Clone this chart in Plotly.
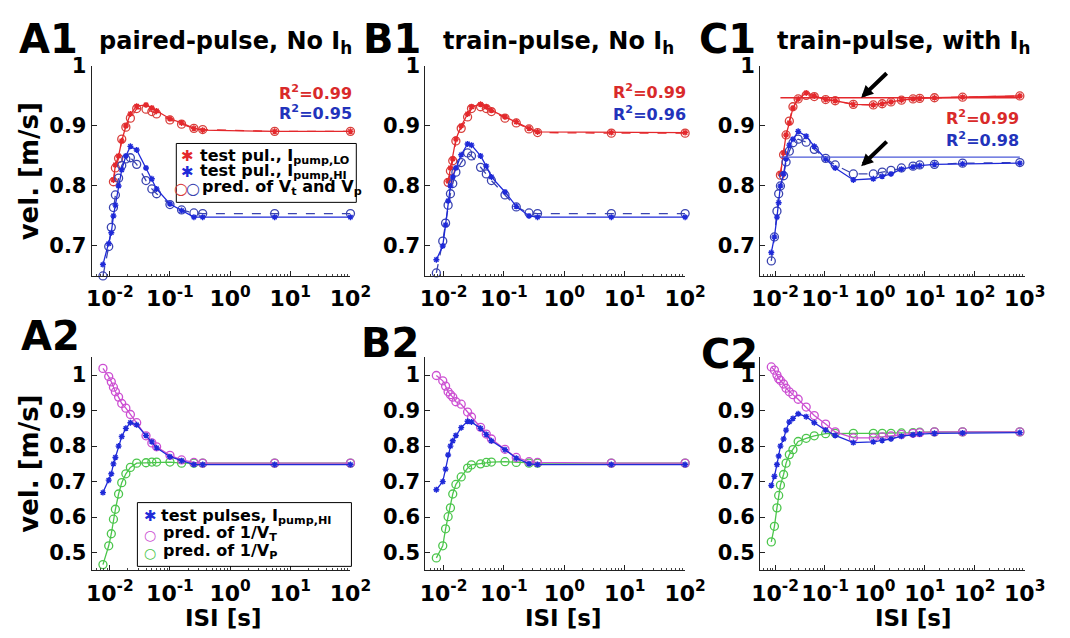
import numpy as np
import plotly.graph_objects as go

# ---------------- data ----------------
# Column A: paired-pulse, no Ih
isi_A = [0.0077, 0.0096, 0.0106, 0.0115, 0.0124, 0.014, 0.0158, 0.0185, 0.022, 0.028,
         0.04, 0.05, 0.06, 0.1, 0.156, 0.25, 0.35, 5.5, 100]
A_blue_data = [0.669, 0.704, 0.722, 0.75, 0.768, 0.80, 0.827, 0.85, 0.866, 0.86,
               0.83, 0.812, 0.795, 0.77, 0.759, 0.748, 0.748, 0.748, 0.748]
A_blue_pred = [0.650, 0.699, 0.731, 0.764, 0.785, 0.813, 0.834, 0.845, 0.847, 0.836,
               0.809, 0.795, 0.787, 0.769, 0.760, 0.755, 0.754, 0.754, 0.754]
isi_A_red = isi_A[3:]
A_red_data = [0.81, 0.835, 0.85, 0.875, 0.90, 0.92, 0.933, 0.935, 0.93, 0.925,
              0.912, 0.905, 0.896, 0.893, 0.891, 0.891]
A_red_pred = [0.807, 0.83, 0.846, 0.878, 0.898, 0.913, 0.929, 0.928, 0.924, 0.92,
              0.91, 0.903, 0.896, 0.894, 0.891, 0.891]
A_invVT = [1.019, 0.996, 0.981, 0.966, 0.953, 0.938, 0.92, 0.907, 0.889, 0.866,
           0.829, 0.809, 0.798, 0.774, 0.761, 0.754, 0.752, 0.752, 0.752]
A_invVP = [0.466, 0.519, 0.553, 0.594, 0.622, 0.665, 0.697, 0.722, 0.74, 0.752,
           0.753, 0.755, 0.755, 0.755, 0.752, 0.752, 0.752, 0.752, 0.752]

# Column B: train-pulse, no Ih
isi_B = [0.0076, 0.0097, 0.0108, 0.0119, 0.013, 0.0142, 0.016, 0.0196, 0.025, 0.029,
         0.041, 0.051, 0.062, 0.104, 0.16, 0.26, 0.36, 6, 100]
B_blue_data = [0.677, 0.70, 0.735, 0.775, 0.80, 0.815, 0.83, 0.852, 0.87, 0.868,
               0.85, 0.833, 0.815, 0.79, 0.766, 0.75, 0.748, 0.748, 0.748]
B_blue_pred = [0.655, 0.708, 0.738, 0.768, 0.787, 0.804, 0.823, 0.839, 0.855, 0.850,
               0.831, 0.820, 0.809, 0.785, 0.765, 0.755, 0.754, 0.754, 0.754]
isi_B_red = isi_B[3:]
B_red_data = [0.808, 0.83, 0.845, 0.878, 0.90, 0.92, 0.932, 0.936, 0.932, 0.926,
              0.915, 0.907, 0.896, 0.89, 0.889, 0.889]
B_red_pred = [0.806, 0.825, 0.842, 0.875, 0.896, 0.915, 0.929, 0.932, 0.929, 0.924,
              0.913, 0.905, 0.895, 0.889, 0.888, 0.888]
B_invVT = [0.999, 0.984, 0.969, 0.953, 0.945, 0.938, 0.925, 0.918, 0.896, 0.882,
           0.853, 0.834, 0.82, 0.791, 0.768, 0.756, 0.754, 0.752, 0.752]
B_invVP = [0.485, 0.519, 0.567, 0.601, 0.626, 0.665, 0.692, 0.713, 0.738, 0.747,
           0.75, 0.754, 0.755, 0.756, 0.754, 0.752, 0.752, 0.752, 0.752]

# Column C: train-pulse, with Ih
isi_C = [0.0084, 0.0097, 0.0109, 0.0118, 0.0128, 0.0148, 0.0166, 0.0193, 0.0228, 0.029,
         0.042, 0.061, 0.103, 0.16, 0.37, 0.93, 1.4, 2.1, 3.4, 5.8, 7.9, 15.6, 57, 800]
C_blue_data = [0.689, 0.715, 0.748, 0.772, 0.80, 0.82, 0.845, 0.868, 0.878, 0.891,
               0.883, 0.866, 0.845, 0.83, 0.81, 0.812, 0.816, 0.82, 0.828, 0.832,
               0.834, 0.836, 0.837, 0.838]
C_blue_pred = [0.675, 0.715, 0.758, 0.787, 0.80, 0.817, 0.84, 0.858, 0.872, 0.878,
               0.873, 0.861, 0.846, 0.835, 0.82, 0.82, 0.823, 0.826, 0.83, 0.833,
               0.835, 0.836, 0.838, 0.839]
isi_C_red = isi_C[4:]
C_red_data = [0.82, 0.855, 0.885, 0.905, 0.93, 0.945, 0.955, 0.95, 0.944, 0.942,
              0.936, 0.935, 0.937, 0.94, 0.943, 0.945, 0.946, 0.947, 0.948, 0.95]
C_red_pred = [0.818, 0.852, 0.885, 0.908, 0.932, 0.945, 0.951, 0.949, 0.944, 0.942,
              0.936, 0.935, 0.937, 0.94, 0.943, 0.945, 0.946, 0.947, 0.948, 0.95]
C_red_ref = 0.947
C_blue_ref = 0.848
C_invVT = [1.023, 1.014, 1.0, 0.99, 0.985, 0.975, 0.963, 0.953, 0.945, 0.932,
           0.91, 0.886, 0.862, 0.84, 0.823, 0.823, 0.826, 0.829, 0.833, 0.836,
           0.838, 0.84, 0.84, 0.84]
C_invVP = [0.53, 0.574, 0.626, 0.661, 0.69, 0.72, 0.752, 0.776, 0.79, 0.813,
           0.822, 0.829, 0.835, 0.836, 0.836, 0.836, 0.836, 0.836, 0.837, 0.838,
           0.839, 0.84, 0.84, 0.84]

r2_red = ["0.99", "0.99", "0.99"]
r2_blue = ["0.95", "0.96", "0.98"]
titles = ["paired-pulse, No I<sub>h</sub>", "train-pulse, No I<sub>h</sub>",
          "train-pulse, with I<sub>h</sub>"]
xt_AB = [0.01, 0.1, 1, 10, 100]
xt_C = [0.01, 0.1, 1, 10, 100, 1000]
xt_text = ["10<sup>-2</sup>", "10<sup>-1</sup>", "10<sup>0</sup>", "10<sup>1</sup>",
           "10<sup>2</sup>", "10<sup>3</sup>"]
yt_row1 = [0.7, 0.8, 0.9, 1.0]
yt_row1_text = ["0.7", "0.8", "0.9", "1"]
yt_row2 = [0.5, 0.6, 0.7, 0.8, 0.9, 1.0]
yt_row2_text = ["0.5", "0.6", "0.7", "0.8", "0.9", "1"]

# ---------------- style ----------------
W, H = 1070, 638
FONT = "DejaVu Sans"
RED = "#e4282c"
RED_C = "#d8403c"
BLUE = "#1f2ad8"
BLUE_C = "#3a44b0"
MAG = "#cc4fd2"
GRN = "#4cc64c"


def px(x):
    return x / W


def py(y):
    return 1 - y / H


fig = go.Figure()


def line_trace(ax, x, y, color, dash="solid", symbol=None, msize=8, mcolor=None, lw=1.3):
    mode = "lines+markers" if symbol else "lines"
    mk = None
    if symbol:
        if symbol.startswith("asterisk"):
            mk = dict(symbol=symbol, size=msize, line=dict(color=mcolor or color, width=1.4))
        else:
            mk = dict(symbol=symbol, size=msize, color=mcolor or color,
                      line=dict(color=mcolor or color, width=1.3))
    fig.add_trace(go.Scatter(x=x, y=y, mode=mode, xaxis="x" + ax, yaxis="y" + ax,
                             line=dict(color=color, width=lw, dash=dash),
                             marker=mk, showlegend=False, cliponaxis=False,
                             hoverinfo="skip"))


# row 1
for ax, isi, bd, bp, isir, rd, rp in [
    ("1", isi_A, A_blue_data, A_blue_pred, isi_A_red, A_red_data, A_red_pred),
    ("2", isi_B, B_blue_data, B_blue_pred, isi_B_red, B_red_data, B_red_pred),
    ("3", isi_C, C_blue_data, C_blue_pred, isi_C_red, C_red_data, C_red_pred),
]:
    line_trace(ax, isir, rp, RED, "dash", "circle-open", 8, RED_C)
    line_trace(ax, isir, rd, RED, "solid", "asterisk-open", 5)
    line_trace(ax, isi, bp, BLUE_C, "dash", "circle-open", 8, BLUE_C)
    line_trace(ax, isi, bd, BLUE, "solid", "asterisk-open", 5)

# C1 reference levels
line_trace("3", [isi_C_red[0], isi_C_red[-1]], [C_red_ref, C_red_ref], RED, lw=1.3)
line_trace("3", [isi_C_red[0], isi_C_red[-1]], [C_blue_ref, C_blue_ref], "#4a58d8", lw=1.3)

# row 2
for ax, isi, bd, vt, vp in [
    ("4", isi_A, A_blue_data, A_invVT, A_invVP),
    ("5", isi_B, B_blue_data, B_invVT, B_invVP),
    ("6", isi_C, C_blue_data, C_invVT, C_invVP),
]:
    line_trace(ax, isi, vp, GRN, "solid", "circle-open", 8)
    line_trace(ax, isi, vt, MAG, "solid", "circle-open", 8)
    line_trace(ax, isi, bd, BLUE, "solid", "asterisk-open", 5)

# ---------------- axes ----------------
xdom = [(86, 352), (429, 696), (773, 1045)]
ydom = [(55, 269), (352, 569)]
minor_x = [k * 10.0 ** e for e in range(-3, 4) for k in range(2, 10)]
layout = {}
xtickfont = dict(family=FONT, size=22, color="black", weight="bold")
ytickfont = dict(family=FONT, size=21, color="black", weight="bold")
for i in range(6):
    col, row = i % 3, i // 3
    n = "" if i == 0 else str(i + 1)
    xd = xdom[col]
    yd = ydom[row]
    rng_x = [np.log10(0.005), 3 if col == 2 else 2]
    layout["xaxis" + n] = dict(
        type="log", domain=[px(xd[0]), px(xd[1])], range=rng_x, anchor="y" + n,
        tickmode="array", tickvals=xt_C if col == 2 else xt_AB,
        ticktext=xt_text[:6 if col == 2 else 5], ticks="inside", ticklen=5,
        tickcolor="#222", showline=True, linecolor="#222", linewidth=1,
        showgrid=False, zeroline=False, tickfont=xtickfont, ticklabelstandoff=3,
        minor=dict(tickmode="array", tickvals=minor_x, ticks="inside", ticklen=2,
                   tickcolor="#444", showgrid=False),
    )
    layout["yaxis" + n] = dict(
        domain=[py(yd[1]), py(yd[0])], anchor="x" + n,
        range=[0.65, 1.0] if row == 0 else [0.45, 1.05],
        tickmode="array", tickvals=yt_row1 if row == 0 else yt_row2,
        ticktext=yt_row1_text if row == 0 else yt_row2_text,
        ticks="inside", ticklen=5, tickcolor="#222", showline=True,
        linecolor="#222", linewidth=1, showgrid=False, zeroline=False,
        tickfont=ytickfont,
    )

ann = []
bold = dict(family=FONT, color="black", weight="bold")

# panel labels
for txt, x, y in [("A1", 9, 28), ("B1", 363, 28), ("C1", 708, 28),
                  ("A2", 11, 330), ("B2", 361, 337), ("C2", 710, 349)]:
    ann.append(dict(text=txt, x=px(x), y=py(y), xref="paper", yref="paper",
                    xanchor="left", yanchor="middle", showarrow=False,
                    font=dict(bold, size=40)))
# titles
for txt, x in zip(titles, [224, 566, 921]):
    ann.append(dict(text=txt, x=px(x), y=py(31), xref="paper", yref="paper",
                    xanchor="center", yanchor="middle", showarrow=False,
                    font=dict(bold, size=24)))
# y titles
for y in [162, 460]:
    ann.append(dict(text="vel. [m/s]", x=px(22), y=py(y), xref="paper", yref="paper",
                    xanchor="center", yanchor="middle", textangle=-90, showarrow=False,
                    font=dict(bold, size=26)))
# x titles
for x in [221, 570, 930]:
    ann.append(dict(text="ISI [s]", x=px(x), y=py(618), xref="paper", yref="paper",
                    xanchor="center", yanchor="middle", showarrow=False,
                    font=dict(bold, size=23)))
# R^2 texts
for (xl, yr, yb), rr, rb in zip([(277, 82, 102), (620, 81, 103), (962, 108, 130)],
                                r2_red, r2_blue):
    ann.append(dict(text="R<sup>2</sup>=" + rr, x=px(xl), y=py(yr), xref="paper",
                    yref="paper", xanchor="left", yanchor="middle", showarrow=False,
                    font=dict(family=FONT, size=16, color="#d92a2a", weight="bold")))
    ann.append(dict(text="R<sup>2</sup>=" + rb, x=px(xl), y=py(yb), xref="paper",
                    yref="paper", xanchor="left", yanchor="middle", showarrow=False,
                    font=dict(family=FONT, size=16, color="#2233bb", weight="bold")))

# C1 arrows
for yv in [C_red_ref, 0.833]:
    ann.append(dict(x=np.log10(0.53), y=yv, xref="x3", yref="y3", text="",
                    showarrow=True, arrowhead=2, arrowsize=0.6, arrowwidth=4,
                    arrowcolor="black", ax=27, ay=-26, standoff=0))

# legends (manual)
shapes = []
shapes.append(dict(type="rect", xref="paper", yref="paper", x0=px(173), x1=px(358),
                   y0=py(194), y1=py(134), line=dict(color="black", width=1),
                   fillcolor="white", layer="above"))
shapes.append(dict(type="rect", xref="paper", yref="paper", x0=px(133), x1=px(353),
                   y0=py(565), y1=py(500), line=dict(color="black", width=1),
                   fillcolor="white", layer="above"))

leg_font = dict(bold, size=16)


def glyph(ch, x, y, color, size=16):
    ann.append(dict(text=ch, x=px(x), y=py(y), xref="paper", yref="paper",
                    xanchor="center", yanchor="middle", showarrow=False,
                    font=dict(family=FONT, size=size, color=color, weight="bold")))


def ltext(t, x, y):
    ann.append(dict(text=t, x=px(x), y=py(y), xref="paper", yref="paper",
                    xanchor="left", yanchor="middle", showarrow=False, font=leg_font))


glyph("✱", 185, 147, RED, 15)
ltext("test pul., I<sub>pump,LO</sub>", 195, 147)
glyph("✱", 185, 163, BLUE, 15)
ltext("test pul., I<sub>pump,HI</sub>", 195, 163)
glyph("○", 178, 180, RED_C, 16)
glyph("○", 190, 180, BLUE_C, 16)
ltext("pred. of V<sub>t</sub> and V<sub>p</sub>", 197, 179)

glyph("✱", 146, 514, BLUE, 15)
ltext("test pulses, I<sub>pump,HI</sub>", 155, 514)
glyph("○", 146, 533, MAG, 14)
ltext("pred. of 1/V<sub>T</sub>", 157, 532)
glyph("○", 146, 551, GRN, 14)
ltext("pred. of 1/V<sub>P</sub>", 157, 550)

fig.update_layout(
    width=W, height=H, margin=dict(l=0, r=0, t=0, b=0),
    paper_bgcolor="white", plot_bgcolor="white",
    annotations=ann, shapes=shapes, showlegend=False, **layout,
)
fig.write_html("out.html")
